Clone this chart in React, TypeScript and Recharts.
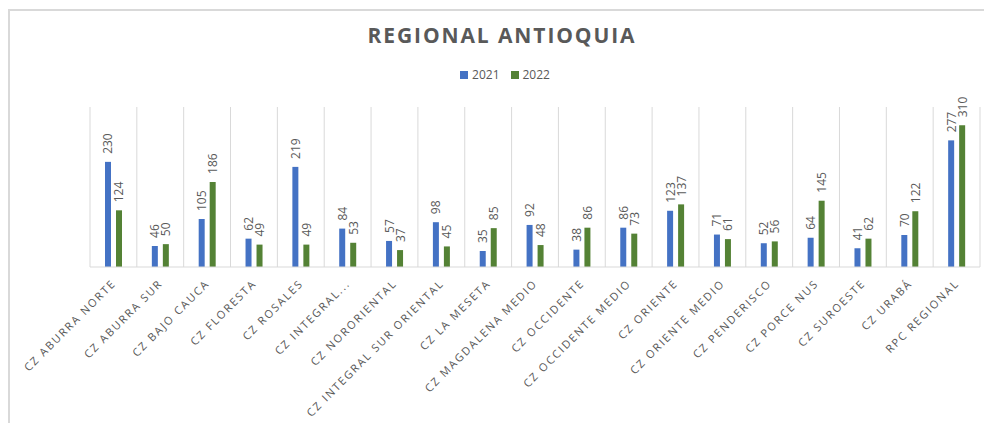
import React from 'react';
import { BarChart, Bar, XAxis, YAxis, CartesianGrid, LabelList } from 'recharts';

const categories = [
    'CZ ABURRA NORTE', 'CZ ABURRA SUR', 'CZ BAJO CAUCA', 'CZ FLORESTA', 'CZ ROSALES',
    'CZ INTEGRAL...', 'CZ NORORIENTAL', 'CZ INTEGRAL SUR ORIENTAL', 'CZ LA MESETA',
    'CZ MAGDALENA MEDIO', 'CZ OCCIDENTE', 'CZ OCCIDENTE MEDIO', 'CZ ORIENTE',
    'CZ ORIENTE MEDIO', 'CZ PENDERISCO', 'CZ PORCE NUS', 'CZ SUROESTE', 'CZ URABÁ', 'RPC REGIONAL',
];
const values2021 = [230, 46, 105, 62, 219, 84, 57, 98, 35, 92, 38, 86, 123, 71, 52, 64, 41, 70, 277];
const values2022 = [124, 50, 186, 49, 49, 53, 37, 45, 85, 48, 86, 73, 137, 61, 56, 145, 62, 122, 310];

const series = [
    { key: 'y2021', name: '2021', color: '#4472C4' },
    { key: 'y2022', name: '2022', color: '#548235' },
];

const data = categories.map((name, i) => ({ name, y2021: values2021[i], y2022: values2022[i] }));

const TEXT = '#595959';
const GRID = '#d9d9d9';
const FONT = '"Open Sans", sans-serif';

const XTick = (props: any) => {
    const { x, y, payload } = props;
    return (
        <text
            x={x}
            y={y}
            transform={`rotate(-45, ${x}, ${y})`}
            textAnchor="end"
            fill={TEXT}
            fontSize={11}
            fontFamily={FONT}
            letterSpacing={1.8}
            dominantBaseline="central"
        >
            {payload.value}
        </text>
    );
};

const BarLabel = (props: any) => {
    const { x, y, width, value } = props;
    const cx = x + width / 2;
    const cy = y - 8;
    return (
        <text
            x={cx}
            y={cy}
            transform={`rotate(-90, ${cx}, ${cy})`}
            textAnchor="start"
            dominantBaseline="central"
            fill={TEXT}
            fontSize={12}
            fontFamily={FONT}
        >
            {value}
        </text>
    );
};

// vertical grid lines at the category boundaries (Excel style)
const boundaryLines = ({ offset }: any) =>
    Array.from({ length: categories.length + 1 }, (_, i) => offset.left + (i * offset.width) / categories.length);

export default function App() {
    return (
        <div style={{ position: 'absolute', left: 0, top: 0, width: 984, height: 423, background: '#fff', overflow: 'hidden' }}>
            <div style={{ position: 'absolute', left: 8, top: 9, right: 0, bottom: 0, borderLeft: `2px solid ${GRID}`, borderTop: `2px solid ${GRID}` }} />
            <div
                style={{
                    position: 'absolute', left: 0, top: 21, width: 1004, textAlign: 'center',
                    fontFamily: FONT, fontWeight: 700, fontSize: 21, letterSpacing: 1.9, color: TEXT,
                }}
            >
                REGIONAL ANTIOQUIA
            </div>
            <div
                style={{
                    position: 'absolute', left: 0, top: 67, width: 1010, display: 'flex', justifyContent: 'center',
                    gap: 11, fontFamily: FONT, fontSize: 12, color: TEXT, lineHeight: '16px',
                }}
            >
                {series.map((s) => (
                    <span key={s.key} style={{ display: 'flex', alignItems: 'center', gap: 4 }}>
                        <span style={{ width: 8, height: 8, background: s.color, display: 'inline-block' }} />
                        {s.name}
                    </span>
                ))}
            </div>
            <div style={{ position: 'absolute', left: 0, top: 0 }}>
                <BarChart
                    width={984}
                    height={423}
                    data={data}
                    margin={{ top: 107, right: 4, bottom: 6, left: 90 }}
                    barSize={6}
                    barGap={5}
                >
                    <CartesianGrid
                        horizontal={false}
                        stroke={GRID}
                        verticalCoordinatesGenerator={boundaryLines}
                    />
                    <XAxis
                        dataKey="name"
                        interval={0}
                        height={150}
                        tickLine={false}
                        axisLine={{ stroke: GRID }}
                        tick={<XTick />}
                        tickMargin={8}
                    />
                    <YAxis hide domain={[0, 350]} />
                    {series.map((s) => (
                        <Bar key={s.key} dataKey={s.key} name={s.name} fill={s.color} isAnimationActive={false}>
                            <LabelList dataKey={s.key} content={<BarLabel />} />
                        </Bar>
                    ))}
                </BarChart>
            </div>
        </div>
    );
}
